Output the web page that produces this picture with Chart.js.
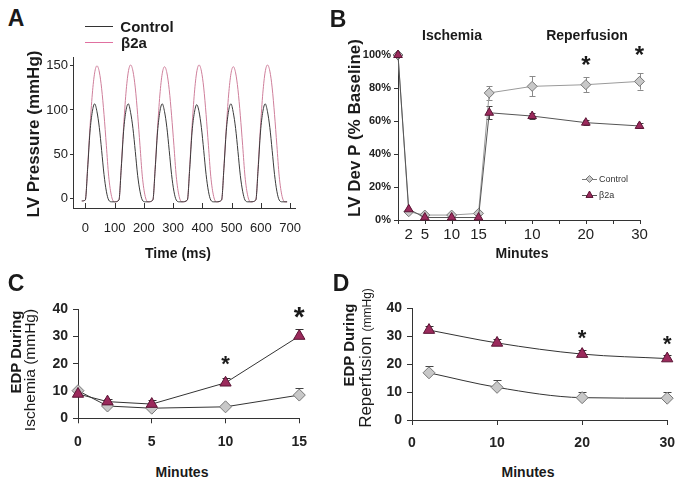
<!DOCTYPE html>
<html>
<head>
<meta charset="utf-8">
<script src="https://cdn.jsdelivr.net/npm/chart.js@4.4.0/dist/chart.umd.min.js"></script>
<style>
  body { margin: 0; background: #fff; }
  #fig { position: relative; width: 685px; height: 486px; overflow: hidden;
         font-family: "Liberation Sans", Arial, sans-serif; color: #1a1a1a; }
  #fig canvas { position: absolute; }
  .t { position: absolute; white-space: nowrap; line-height: 1; font-weight: bold;
       transform: translate(-50%, -50%); }
  .v { transform: translate(-50%, -50%) rotate(-90deg); }
  .n { font-weight: normal; }
  .key { position: absolute; height: 0; }
</style>
</head>
<body>
<div id="fig">
  <canvas id="chartA" width="330" height="200" style="left:0;top:40px"></canvas>
  <canvas id="chartB" width="345" height="225" style="left:340px;top:20px"></canvas>
  <canvas id="chartC" width="340" height="170" style="left:0;top:280px"></canvas>
  <canvas id="chartD" width="345" height="170" style="left:340px;top:280px"></canvas>

  <!-- panel letters -->
  <div class="t" style="left:16px;top:18px;font-size:23px">A</div>
  <div class="t" style="left:338px;top:19px;font-size:23px">B</div>
  <div class="t" style="left:16px;top:283px;font-size:23px">C</div>
  <div class="t" style="left:341px;top:283px;font-size:23px">D</div>

  <!-- panel A legend and titles -->
  <div class="key" style="left:85px;top:26px;width:28px;border-top:1.5px solid #333"></div>
  <div class="key" style="left:85px;top:42px;width:28px;border-top:1.5px solid #e070a0"></div>
  <div class="t" style="left:147px;top:26px;font-size:15px">Control</div>
  <div class="t" style="left:134px;top:42px;font-size:15px">β2a</div>
  <div class="t v" style="left:33px;top:134px;font-size:17px">LV Pressure (mmHg)</div>
  <div class="t" style="left:178px;top:253px;font-size:14px">Time (ms)</div>

  <!-- panel B titles -->
  <div class="t v" style="left:354px;top:128px;font-size:17px">LV Dev P (% Baseline)</div>
  <div class="t" style="left:452px;top:35px;font-size:14px">Ischemia</div>
  <div class="t" style="left:587px;top:35px;font-size:14px">Reperfusion</div>
  <div class="t" style="left:522px;top:253px;font-size:14px">Minutes</div>

  <!-- panel C titles -->
  <div class="t v" style="left:15px;top:352px;font-size:15px">EDP During</div>
  <div class="t v n" style="left:30px;top:370px;font-size:15.5px">Ischemia (mmHg)</div>
  <div class="t" style="left:182px;top:472px;font-size:14px">Minutes</div>

  <!-- panel D titles -->
  <div class="t v" style="left:348px;top:345px;font-size:15px">EDP During</div>
  <div class="t v n" style="left:365px;top:358px;font-size:17px">Reperfusion <span style="font-size:12px">(mmHg)</span></div>
  <div class="t" style="left:528px;top:472px;font-size:14px">Minutes</div>
</div>

<script>
const FONT = '"Liberation Sans", Arial, sans-serif';
const PINK = '#cf7f9b';
const GREY_FILL = '#c8c8c8';
const GREY_EDGE = '#777777';
const PLUM_FILL = '#9b2a5c';
const PLUM_EDGE = '#5a1434';

// ---- panel A: pressure traces (ms, mmHg) ----
const aTime = [-12,
  0, 8, 16, 24, 32, 40, 48, 56, 64, 72, 80, 90, 100,
  115, 123, 131, 139, 147, 155, 163, 171, 179, 187, 195, 205, 215,
  231, 239, 247, 255, 263, 271, 279, 287, 295, 303, 311, 321, 331,
  349, 357, 365, 373, 381, 389, 397, 405, 413, 421, 429, 439, 449,
  466, 474, 482, 490, 498, 506, 514, 522, 530, 538, 546, 556, 566,
  583, 591, 599, 607, 615, 623, 631, 639, 647, 655, 663, 673, 683,
  690];
const aControl = [-3,
  -2, 33, 75, 98, 107, 98, 80, 54, 27, 8, -2, -4, -4,
  -2, 34, 76, 99, 107, 97, 79, 53, 26, 8, -2, -4, -4,
  -2, 33, 75, 98, 107, 98, 80, 54, 27, 8, -2, -4, -4,
  -2, 33, 75, 97, 106, 98, 80, 54, 27, 8, -2, -4, -4,
  -2, 34, 76, 99, 107, 97, 79, 53, 26, 8, -2, -4, -4,
  -2, 33, 75, 98, 107, 98, 80, 54, 27, 8, -2, -4, -4,
  -4];
const aB2a = [-3,
  -2, 35, 80, 118, 142, 150, 143, 124, 95, 60, 25, 2, -4,
  -2, 36, 81, 119, 143, 151, 144, 125, 95, 60, 25, 2, -4,
  -2, 35, 79, 117, 141, 149, 142, 123, 94, 60, 25, 2, -4,
  -2, 36, 81, 119, 143, 151, 144, 125, 95, 60, 25, 2, -4,
  -2, 35, 79, 117, 141, 149, 142, 123, 94, 60, 25, 2, -4,
  -2, 36, 81, 119, 143, 151, 144, 125, 95, 60, 25, 2, -4,
  -4];
const aXTicks = [0, 100, 200, 300, 400, 500, 600, 700];
const aYTicks = [0, 50, 100, 150];

// ---- panel B: developed pressure, % of baseline (ischemia 0-15, reperfusion after) ----
const bX = [0, 2, 5, 10, 15, 17, 25, 35, 45];
const bControl = [100, 5, 3, 3, 4, 77, 81, 82, 84];
const bControlErr = [0, 0, 0, 0, 0, 4, 6, 4.5, 5];
const bB2a = [100, 6.5, 1.5, 1.5, 1.5, 65, 63, 59, 57];
const bB2aErr = [0, 0, 0, 0, 0, 4, 2, 1.5, 1.5];
const bTickAt = [2, 5, 10, 15, 25, 35, 45];
const bTickText = ['2', '5', '10', '15', '10', '20', '30'];
const bTickMarks = [0, 5, 10, 15, 20, 25, 30, 35, 40, 45];
const bStarX = [35, 45];
const bStarY = [97, 103];

// ---- panel C: EDP during ischemia ----
const cX = [0, 2, 5, 10, 15];
const cControl = [10.1, 4.5, 3.7, 4.2, 8.5];
const cControlErr = [0, 0, 0, 0, 2.7];
const cB2a = [8.9, 6.1, 5.2, 13.0, 30.1];
const cB2aErr = [0, 0.9, 1.5, 1.8, 2.5];
const cStarX = [10, 15];
const cStarY = [21.6, 39];
const cStarSize = [22, 28];

// ---- panel D: EDP during reperfusion ----
const dX = [2, 10, 20, 30];
const dControl = [16.9, 11.7, 8.0, 7.8];
const dControlErr = [2.6, 2.6, 1.9, 2.1];
const dB2a = [32.2, 27.6, 23.6, 22.0];
const dB2aErr = [1.3, 1.3, 1.3, 1.2];
const dStarX = [20, 30];
const dStarY = [31, 28.7];
const dStarSize = [22, 22];

const pts = (xs, ys) => xs.map((x, i) => ({ x: x, y: ys[i] }));

// error bars drawn under the markers
const errorBars = {
  id: 'errorBars',
  beforeDatasetsDraw(chart, args, opts) {
    const { ctx, scales: { x, y } } = chart;
    (opts.sets || []).forEach(s => {
      ctx.save();
      ctx.strokeStyle = s.color;
      ctx.lineWidth = 1;
      ctx.beginPath();
      s.x.forEach((xv, i) => {
        const e = s.err[i];
        if (!e) return;
        const px = Math.round(x.getPixelForValue(xv)) + 0.5;
        const top = Math.round(y.getPixelForValue(s.y[i] + e)) + 0.5;
        const bot = y.getPixelForValue(s.both ? s.y[i] - e : s.y[i]);
        ctx.moveTo(px, top); ctx.lineTo(px, bot);
        ctx.moveTo(px - s.cap, top); ctx.lineTo(px + s.cap, top);
        if (s.both) {
          const b = Math.round(bot) + 0.5;
          ctx.moveTo(px - s.cap, b); ctx.lineTo(px + s.cap, b);
        }
      });
      ctx.stroke();
      ctx.restore();
    });
  }
};

// significance asterisks
const stars = {
  id: 'stars',
  afterDatasetsDraw(chart, args, opts) {
    if (!opts.x) return;
    const { ctx, scales: { x, y } } = chart;
    ctx.save();
    ctx.fillStyle = '#1a1a1a';
    ctx.textAlign = 'center';
    ctx.textBaseline = 'middle';
    opts.x.forEach((xv, i) => {
      const size = opts.size[i];
      ctx.font = 'bold ' + size + 'px ' + FONT;
      ctx.fillText('*', x.getPixelForValue(xv), y.getPixelForValue(opts.y[i]) + size * 0.25);
    });
    ctx.restore();
  }
};

// x tick marks at positions that differ from the labels
const tickMarks = {
  id: 'tickMarks',
  afterDraw(chart, args, opts) {
    if (!opts.at) return;
    const { ctx, chartArea, scales: { x } } = chart;
    ctx.save();
    ctx.strokeStyle = opts.color;
    ctx.lineWidth = 1;
    ctx.beginPath();
    opts.at.forEach(v => {
      const px = Math.round(x.getPixelForValue(v)) + 0.5;
      ctx.moveTo(px, chartArea.bottom);
      ctx.lineTo(px, chartArea.bottom + opts.len);
    });
    ctx.stroke();
    ctx.restore();
  }
};

// small legend inside panel B
const innerLegend = {
  id: 'innerLegend',
  afterDraw(chart, args, opts) {
    if (!opts.items) return;
    const { ctx, chartArea: a } = chart;
    opts.items.forEach((it, i) => {
      const y = a.top + opts.top + i * opts.gap;
      const x0 = a.left + opts.left;
      const cx = x0 + 7.5, r = 3.5;
      ctx.save();
      ctx.strokeStyle = it.line;
      ctx.lineWidth = 1;
      ctx.beginPath(); ctx.moveTo(x0, y + 0.5); ctx.lineTo(x0 + 15, y + 0.5); ctx.stroke();
      ctx.beginPath();
      if (it.shape === 'diamond') {
        ctx.moveTo(cx, y - r); ctx.lineTo(cx + r, y); ctx.lineTo(cx, y + r); ctx.lineTo(cx - r, y);
      } else {
        ctx.moveTo(cx, y - r - 0.5); ctx.lineTo(cx + r, y + r * 0.7); ctx.lineTo(cx - r, y + r * 0.7);
      }
      ctx.closePath();
      ctx.fillStyle = it.fill; ctx.fill();
      ctx.strokeStyle = it.edge; ctx.stroke();
      ctx.fillStyle = '#333';
      ctx.font = '9px ' + FONT;
      ctx.textBaseline = 'middle';
      ctx.fillText(it.text, x0 + 17, y + 1);
      ctx.restore();
    });
  }
};

const allPlugins = [errorBars, stars, tickMarks, innerLegend];

function axisBase(size, bold) {
  return {
    border: { color: '#333', width: 1 },
    ticks: { font: { family: FONT, size: size, weight: bold ? 'bold' : 'normal' }, color: '#222' }
  };
}

function controlSet(xs, ys, lineColor, r) {
  return {
    label: 'Control', data: pts(xs, ys), borderColor: lineColor, borderWidth: 1,
    pointStyle: 'rectRot', pointRadius: r, pointBackgroundColor: GREY_FILL,
    pointBorderColor: GREY_EDGE, pointBorderWidth: 1, clip: false
  };
}
function b2aSet(xs, ys, lineColor, r) {
  return {
    label: 'β2a', data: pts(xs, ys), borderColor: lineColor, borderWidth: 1,
    pointStyle: 'triangle', pointRadius: r, pointBackgroundColor: PLUM_FILL,
    pointBorderColor: PLUM_EDGE, pointBorderWidth: 1, clip: false
  };
}

// ---------- A ----------
new Chart(document.getElementById('chartA'), {
  type: 'line',
  data: {
    datasets: [
      { label: 'Control', data: pts(aTime, aControl), borderColor: '#3a3a3a', borderWidth: 1,
        pointRadius: 0, cubicInterpolationMode: 'monotone' },
      { label: 'β2a', data: pts(aTime, aB2a), borderColor: PINK, borderWidth: 1,
        pointRadius: 0, cubicInterpolationMode: 'monotone' }
    ]
  },
  options: {
    responsive: false, animation: false, events: [],
    layout: { padding: { top: 17, right: 35, left: 0, bottom: 0 } },
    plugins: {
      legend: { display: false }, tooltip: { enabled: false },
      tickMarks: { at: aXTicks, len: -5, color: '#333' }
    },
    scales: {
      x: Object.assign(axisBase(13, false), {
        type: 'linear', min: -42, max: 717,
        afterBuildTicks: s => { s.ticks = aXTicks.map(v => ({ value: v })); },
        grid: { display: false, drawTicks: false },
        afterFit: s => { s.height = 32; }
      }),
      y: Object.assign(axisBase(13, false), {
        min: -11, max: 160,
        afterBuildTicks: s => { s.ticks = aYTicks.map(v => ({ value: v })); },
        grid: { drawOnChartArea: false, drawTicks: true, tickLength: 3, color: '#333' },
        afterFit: s => { s.width = 73; }
      })
    }
  },
  plugins: allPlugins
});
{
  const ch = Chart.getChart('chartA');
  ch.options.scales.x.ticks.padding = 13;
  ch.options.scales.y.ticks.padding = 2;
  ch.update();
}

// ---------- B ----------
new Chart(document.getElementById('chartB'), {
  type: 'line',
  data: {
    datasets: [
      b2aSet(bX, bB2a, '#555555', 5),
      controlSet(bX, bControl, '#9a9a9a', 5)
    ]
  },
  options: {
    responsive: false, animation: false, events: [],
    layout: { padding: { top: 35, right: 45.5, left: 0, bottom: 0 } },
    plugins: {
      legend: { display: false }, tooltip: { enabled: false },
      errorBars: { sets: [
        { x: bX, y: bControl, err: bControlErr, both: true, color: '#8a8a8a', cap: 3 },
        { x: bX, y: bB2a, err: bB2aErr, both: true, color: '#444', cap: 3 }
      ] },
      stars: { x: bStarX, y: bStarY, size: [24, 24] },
      tickMarks: { at: bTickMarks, len: 4, color: '#333' },
      innerLegend: { left: 184, top: 124, gap: 16, items: [
        { text: 'Control', shape: 'diamond', line: '#777', fill: GREY_FILL, edge: GREY_EDGE },
        { text: 'β2a', shape: 'triangle', line: '#555', fill: PLUM_FILL, edge: PLUM_EDGE }
      ] }
    },
    scales: {
      x: Object.assign(axisBase(15, false), {
        type: 'linear', min: 0, max: 45,
        afterBuildTicks: s => { s.ticks = bTickAt.map(v => ({ value: v })); },
        grid: { display: false, drawTicks: false },
        afterFit: s => { s.height = 25; }
      }),
      y: Object.assign(axisBase(11, true), {
        min: 0, max: 100,
        grid: { drawOnChartArea: false, drawTicks: true, tickLength: 4, color: '#333' },
        afterFit: s => { s.width = 58; }
      })
    }
  },
  plugins: allPlugins
});
{
  const ch = Chart.getChart('chartB');
  ch.options.scales.x.ticks.padding = 6;
  ch.options.scales.x.ticks.callback = v => bTickText[bTickAt.indexOf(v)];
  ch.options.scales.y.ticks.padding = 3;
  ch.options.scales.y.ticks.stepSize = 20;
  ch.options.scales.y.ticks.callback = v => v + '%';
  ch.update();
}

// ---------- C ----------
new Chart(document.getElementById('chartC'), {
  type: 'line',
  data: {
    datasets: [
      b2aSet(cX, cB2a, '#333', 6.5),
      controlSet(cX, cControl, '#333', 6)
    ]
  },
  options: {
    responsive: false, animation: false, events: [],
    layout: { padding: { top: 29, right: 40.7, left: 0, bottom: 0 } },
    plugins: {
      legend: { display: false }, tooltip: { enabled: false },
      errorBars: { sets: [
        { x: cX, y: cControl, err: cControlErr, both: false, color: '#444', cap: 4 },
        { x: cX, y: cB2a, err: cB2aErr, both: false, color: '#333', cap: 4 }
      ] },
      stars: { x: cStarX, y: cStarY, size: cStarSize }
    },
    scales: {
      x: Object.assign(axisBase(14, true), {
        type: 'linear', min: 0, max: 15,
        grid: { drawOnChartArea: false, drawTicks: true, tickLength: 5, color: '#333' },
        afterFit: s => { s.height = 31.7; }
      }),
      y: Object.assign(axisBase(14, true), {
        min: 0, max: 40,
        grid: { drawOnChartArea: false, drawTicks: true, tickLength: 5, color: '#333' },
        afterFit: s => { s.width = 78; }
      })
    }
  },
  plugins: allPlugins
});
{
  const ch = Chart.getChart('chartC');
  ch.options.scales.x.ticks.padding = 10;
  ch.options.scales.x.ticks.stepSize = 5;
  ch.options.scales.y.ticks.padding = 5;
  ch.options.scales.y.ticks.stepSize = 10;
  ch.update();
}

// ---------- D ----------
const dB2aSet = b2aSet(dX, dB2a, '#333', 6.5);
const dControlSet = controlSet(dX, dControl, '#333', 6);
dB2aSet.cubicInterpolationMode = 'monotone';
dControlSet.cubicInterpolationMode = 'monotone';
new Chart(document.getElementById('chartD'), {
  type: 'line',
  data: { datasets: [dB2aSet, dControlSet] },
  options: {
    responsive: false, animation: false, events: [],
    layout: { padding: { top: 28.3, right: 11.7, left: 0, bottom: 0 } },
    plugins: {
      legend: { display: false }, tooltip: { enabled: false },
      errorBars: { sets: [
        { x: dX, y: dControl, err: dControlErr, both: false, color: '#444', cap: 4 },
        { x: dX, y: dB2a, err: dB2aErr, both: false, color: '#333', cap: 4 }
      ] },
      stars: { x: dStarX, y: dStarY, size: dStarSize }
    },
    scales: {
      x: Object.assign(axisBase(14, true), {
        type: 'linear', min: 0, max: 30,
        grid: { drawOnChartArea: false, drawTicks: true, tickLength: 5, color: '#333' },
        afterFit: s => { s.height = 30; }
      }),
      y: Object.assign(axisBase(14, true), {
        min: 0, max: 40,
        grid: { drawOnChartArea: false, drawTicks: true, tickLength: 5, color: '#333' },
        afterFit: s => { s.width = 72; }
      })
    }
  },
  plugins: allPlugins
});
{
  const ch = Chart.getChart('chartD');
  ch.options.scales.x.ticks.padding = 10;
  ch.options.scales.x.ticks.stepSize = 10;
  ch.options.scales.y.ticks.padding = 5;
  ch.options.scales.y.ticks.stepSize = 10;
  ch.update();
}
</script>
</body>
</html>
